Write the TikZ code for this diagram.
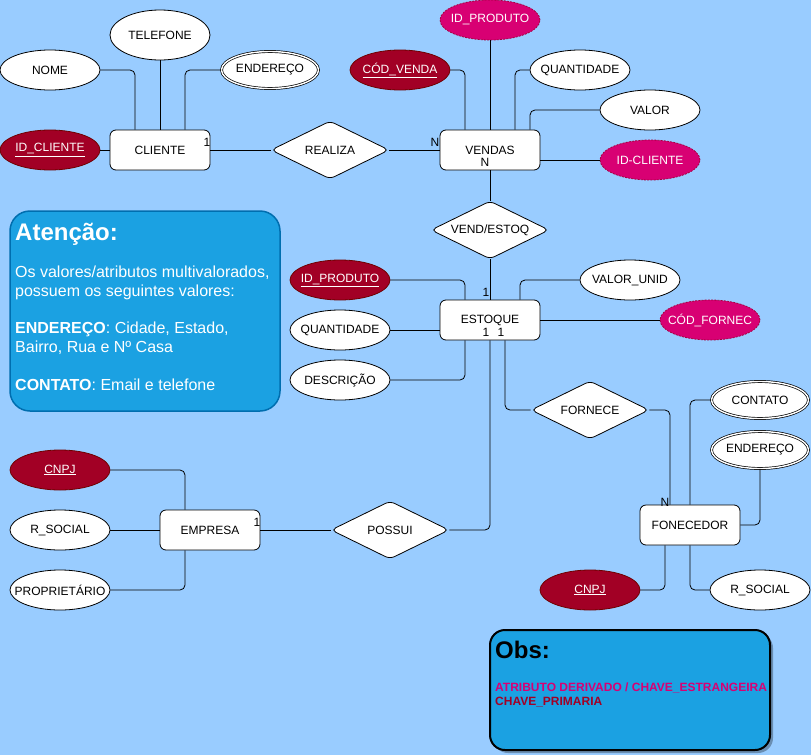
\documentclass[tikz,border=0pt]{standalone}
\usepackage{fontspec}
\setmainfont{Liberation Sans}
\usetikzlibrary{shapes.geometric}
\definecolor{bg}{HTML}{99CCFF}
\definecolor{pk}{HTML}{A20025}
\definecolor{pkb}{HTML}{6F0000}
\definecolor{fk}{HTML}{D80073}
\definecolor{fkb}{HTML}{A50040}
\definecolor{note}{HTML}{1BA1E2}
\definecolor{noteb}{HTML}{006EAF}
\newcommand\fsz{\fontsize{12}{14}\selectfont}
\begin{document}
\begin{tikzpicture}[x=1pt,y=-1pt,
  every node/.style={inner sep=0pt},
  zw/.style={execute at begin node={\hbox to 0pt\bgroup\hss}, execute at end node={\hss\egroup}},
  attr/.style={ellipse, zw, draw=black, line width=0.8pt, fill=white, minimum width=100pt, minimum height=40pt, font=\fsz},
  attrd/.style={ellipse, zw, draw=black, line width=0.7pt, fill=white, double=white, double distance=1.4pt, minimum width=97pt, minimum height=37pt, font=\fsz},
  pkattr/.style={ellipse, zw, draw=pkb, line width=0.8pt, fill=pk, text=white, minimum width=100pt, minimum height=40pt, font=\fsz},
  fkattr/.style={ellipse, zw, draw=fkb, line width=0.8pt, dash pattern=on 2pt off 1.2pt, fill=fk, text=white, minimum width=100pt, minimum height=40pt, font=\fsz},
  ent/.style={rectangle, draw=black, line width=0.8pt, fill=white, rounded corners=6pt, minimum width=100pt, minimum height=40pt, font=\fsz},
  rel/.style={diamond, aspect=2, draw=black, line width=0.8pt, fill=white, rounded corners=5pt, minimum width=118pt, minimum height=58pt, font=\fsz},
  conn/.style={draw=black, line width=0.8pt, rounded corners=5pt},
  card/.style={font=\fsz, text=black},
  notetxt/.style={anchor=base west, text=white, font=\fontsize{16}{19}\selectfont},
]
\fill[bg] (0,0) rectangle (811,755);
\useasboundingbox (0,0) rectangle (811,755);

% notes
\node[draw=noteb, line width=1.5pt, fill=note, rounded corners=20pt, minimum width=270pt, minimum height=200pt] (aten) at (145,311) {};
\node[notetxt, font=\bfseries\fontsize{24}{28}\selectfont] (att0) at (15,240) {Atenção:};
\node[notetxt] (att1) at (15,277) {Os valores/atributos multivalorados,};
\node[notetxt] (att2) at (15,296) {possuem os seguintes valores:};
\node[notetxt] (att3) at (15,333) {\textbf{ENDEREÇO}: Cidade, Estado,};
\node[notetxt] (att4) at (15,352) {Bairro, Rua e Nº Casa};
\node[notetxt] (att5) at (15,390) {\textbf{CONTATO}: Email e telefone};

\node[fill=black, opacity=0.3, rounded corners=15pt, minimum width=280pt, minimum height=120pt] (obssh) at (633,693) {};
\node[draw=black, line width=2pt, fill=note, rounded corners=15pt, minimum width=280pt, minimum height=120pt] (obs) at (630,690) {};
\node[anchor=base west, font=\bfseries\fontsize{24}{28}\selectfont] (obs0) at (495,658) {Obs:};
\node[anchor=base west, text=fk, font=\bfseries\fsz] (obs1) at (495,691) {ATRIBUTO DERIVADO / CHAVE\_ESTRANGEIRA};
\node[anchor=base west, text=pk, font=\bfseries\fsz] (obs2) at (495,705) {CHAVE\_PRIMARIA};

% CLIENTE
\node[attr] (nome) at (50,70) {NOME};
\node[attr, minimum height=50pt] (tel) at (160,35) {TELEFONE};
\node[attrd] (end1) at (270,70) {ENDEREÇO};
\node[pkattr] (idc) at (50,150) {\underline{ID\_CLIENTE}};
\node[ent] (cliente) at (160,150) {CLIENTE};
\node[rel] (realiza) at (330,150) {REALIZA};

% VENDAS
\node[pkattr] (codv) at (400,70) {\underline{CÓD\_VENDA}};
\node[fkattr] (idp1) at (490,20) {ID\_PRODUTO};
\node[attr] (qtd1) at (580,70) {QUANTIDADE};
\node[attr] (valor) at (650,110) {VALOR};
\node[fkattr] (idcl) at (650,160) {ID-CLIENTE};
\node[ent] (vendas) at (490,150) {VENDAS};
\node[rel] (vendest) at (490,230) {VEND/ESTOQ};

% ESTOQUE
\node[pkattr] (idp2) at (340,280) {\underline{ID\_PRODUTO}};
\node[attr] (qtd2) at (340,330) {QUANTIDADE};
\node[attr] (desc) at (340,380) {DESCRIÇÃO};
\node[ent] (estoque) at (490,320) {ESTOQUE};
\node[attr] (vunid) at (630,280) {VALOR\_UNID};
\node[fkattr] (codf) at (710,320) {CÓD\_FORNEC};
\node[rel] (fornece) at (590,410) {FORNECE};

% FONECEDOR
\node[attrd] (contato) at (760,400) {CONTATO};
\node[attrd] (end2) at (760,450) {ENDEREÇO};
\node[ent] (fonec) at (690,525) {FONECEDOR};
\node[pkattr] (cnpj2) at (590,590) {\underline{CNPJ}};
\node[attr] (rsoc2) at (760,590) {R\_SOCIAL};

% EMPRESA
\node[pkattr] (cnpj1) at (60,470) {\underline{CNPJ}};
\node[attr] (rsoc1) at (60,530) {R\_SOCIAL};
\node[attr] (prop) at (60,590) {PROPRIETÁRIO};
\node[ent] (empresa) at (210,530) {EMPRESA};
\node[rel] (possui) at (390,530) {POSSUI};

% connectors
\draw[conn] (nome.east) -| ([xshift=-25pt]cliente.north);
\draw[conn] (tel.south) -- (cliente.north);
\draw[conn] (end1.west) -| ([xshift=25pt]cliente.north);
\draw[conn] (idc.east) -- (cliente.west);
\draw[conn] (cliente.east) -- (realiza.west);
\draw[conn] (realiza.east) -- (vendas.west);
\draw[conn] (codv.east) -| ([xshift=-25pt]vendas.north);
\draw[conn] (idp1.south) -- (vendas.north);
\draw[conn] (qtd1.west) -| ([xshift=25pt]vendas.north);
\draw[conn] (valor.west) -| ([xshift=40pt]vendas.north);
\draw[conn] ([yshift=-10pt]vendas.east) -- (idcl.west);
\draw[conn] (vendas.south) -- (vendest.north);
\draw[conn] (vendest.south) -- (estoque.north);
\draw[conn] (idp2.east) -| ([xshift=-25pt]estoque.north);
\draw[conn] (qtd2.east) -- ([yshift=-10pt]estoque.west);
\draw[conn] (desc.east) -| ([xshift=-25pt]estoque.south);
\draw[conn] (vunid.west) -| ([xshift=30pt]estoque.north);
\draw[conn] (estoque.east) -- (codf.west);
\draw[conn] ([xshift=15pt]estoque.south) |- (fornece.west);
\draw[conn] (estoque.south) |- (possui.east);
\draw[conn] (fornece.east) -| ([xshift=-20pt]fonec.north);
\draw[conn] (contato.west) -| (fonec.north);
\draw[conn] (end2.south) |- (fonec.east);
\draw[conn] ([xshift=-25pt]fonec.south) |- (cnpj2.east);
\draw[conn] (fonec.south) |- (rsoc2.west);
\draw[conn] (cnpj1.east) -| ([xshift=-25pt]empresa.north);
\draw[conn] (rsoc1.east) -- (empresa.west);
\draw[conn] (prop.east) -| ([xshift=-25pt]empresa.south);
\draw[conn] (empresa.east) -- (possui.west);

% cardinalities
\node[card] (c1) at (207,142) {1};
\node[card] (c2) at (435,142) {N};
\node[card] (c3) at (485,162) {N};
\node[card] (c4) at (486,292) {1};
\node[card] (c5) at (486,332) {1};
\node[card] (c6) at (501,332) {1};
\node[card] (c7) at (257,522) {1};
\node[card] (c8) at (665,502) {N};
\end{tikzpicture}
\end{document}
